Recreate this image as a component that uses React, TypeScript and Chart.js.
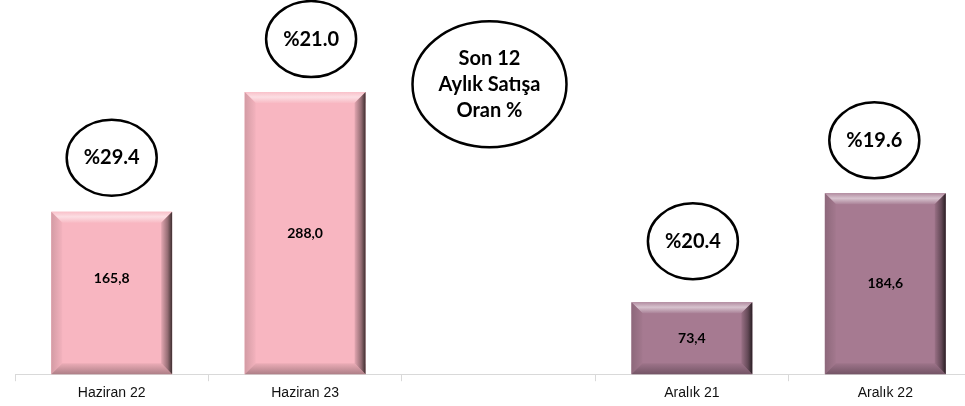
import React, { useEffect, useRef } from "react";
import { Chart, registerables } from "chart.js";

Chart.register(...registerables);

const categories = ["Haziran 22", "Haziran 23", "", "Aralık 21", "Aralık 22"];
const values: (number | null)[] = [165.8, 288.0, null, 73.4, 184.6];
const valueLabels = ["165,8", "288,0", "", "73,4", "184,6"];
const ratioLabels: (string | null)[] = ["%29.4", "%21.0", null, "%20.4", "%19.6"];
const noteLines = ["Son 12", "Aylık Satışa", "Oran %"];

const PINK = "#F8B6C1";
const PURPLE = "#A67A91";
const barColors = [PINK, PINK, PINK, PURPLE, PURPLE];

// style: offsets of annotation ellipses from bar top (px)
const ellipseOffsets: ([number, number] | null)[] = [[0, -54], [6, -53], null, [1, -61], [-11, -53]];
const labelOffsets = [-15, 0, 0, 0, 0];

function shade(hex: string, f: number): string {
  const n = parseInt(hex.slice(1), 16);
  let r = (n >> 16) & 255, g = (n >> 8) & 255, b = n & 255;
  if (f >= 0) {
    r = r + (255 - r) * f; g = g + (255 - g) * f; b = b + (255 - b) * f;
  } else {
    r = r * (1 + f); g = g * (1 + f); b = b * (1 + f);
  }
  return `rgb(${Math.round(r)},${Math.round(g)},${Math.round(b)})`;
}

const bevelPlugin = {
  id: "bevel",
  afterDatasetsDraw(chart: any) {
    const ctx = chart.ctx;
    const meta = chart.getDatasetMeta(0);
    meta.data.forEach((el: any, i: number) => {
      if (values[i] == null) return;
      const col = barColors[i];
      const w = el.width;
      const l = el.x - w / 2, r = el.x + w / 2, t = el.y, bot = el.base;
      const bh = 11, bv = 11;
      ctx.save();
      // top
      let g = ctx.createLinearGradient(0, t, 0, t + bv);
      g.addColorStop(0, shade(col, 0.15));
      g.addColorStop(0.45, shade(col, 0.55));
      g.addColorStop(1, shade(col, 0.05));
      ctx.fillStyle = g;
      ctx.beginPath();
      ctx.moveTo(l, t); ctx.lineTo(r, t); ctx.lineTo(r - bh, t + bv); ctx.lineTo(l + bh, t + bv); ctx.closePath();
      ctx.fill();
      // left
      g = ctx.createLinearGradient(l, 0, l + bh, 0);
      g.addColorStop(0, shade(col, -0.15));
      g.addColorStop(1, shade(col, -0.02));
      ctx.fillStyle = g;
      ctx.beginPath();
      ctx.moveTo(l, t); ctx.lineTo(l + bh, t + bv); ctx.lineTo(l + bh, bot - bv); ctx.lineTo(l, bot); ctx.closePath();
      ctx.fill();
      // bottom
      g = ctx.createLinearGradient(0, bot - bv, 0, bot);
      g.addColorStop(0, shade(col, -0.05));
      g.addColorStop(1, shade(col, -0.3));
      ctx.fillStyle = g;
      ctx.beginPath();
      ctx.moveTo(l, bot); ctx.lineTo(l + bh, bot - bv); ctx.lineTo(r - bh, bot - bv); ctx.lineTo(r, bot); ctx.closePath();
      ctx.fill();
      // right
      g = ctx.createLinearGradient(r - bh, 0, r, 0);
      g.addColorStop(0, shade(col, -0.08));
      g.addColorStop(0.6, shade(col, -0.4));
      g.addColorStop(1, shade(col, -0.75));
      ctx.fillStyle = g;
      ctx.beginPath();
      ctx.moveTo(r, t); ctx.lineTo(r, bot); ctx.lineTo(r - bh, bot - bv); ctx.lineTo(r - bh, t + bv); ctx.closePath();
      ctx.fill();

      // value label
      ctx.fillStyle = "#000";
      ctx.font = "bold 14px Lato, 'Liberation Sans', sans-serif";
      ctx.textAlign = "center";
      ctx.textBaseline = "middle";
      ctx.fillText(valueLabels[i], el.x, (t + bot) / 2 + labelOffsets[i]);
      ctx.restore();
    });
  },
  afterDraw(chart: any) {
    const ctx = chart.ctx;
    const meta = chart.getDatasetMeta(0);
    const xs = chart.scales.x;
    const ys = chart.scales.y;
    ctx.save();
    ctx.strokeStyle = "#000";
    ctx.lineWidth = 2.5;
    ctx.fillStyle = "#000";
    ctx.textAlign = "center";
    ctx.textBaseline = "middle";
    meta.data.forEach((el: any, i: number) => {
      const lab = ratioLabels[i];
      const off = ellipseOffsets[i];
      if (!lab || !off) return;
      const cx = el.x + off[0], cy = el.y + off[1];
      ctx.beginPath();
      ctx.ellipse(cx, cy, 45, 38, 0, 0, Math.PI * 2);
      ctx.fillStyle = "#fff";
      ctx.fill();
      ctx.stroke();
      ctx.fillStyle = "#000";
      ctx.font = "bold 20px Lato, 'Liberation Sans', sans-serif";
      ctx.fillText(lab, cx, cy);
    });
    // note circle
    const ncx = xs.getPixelForValue(2) - 9;
    const ncy = ys.getPixelForValue(296);
    ctx.beginPath();
    ctx.ellipse(ncx, ncy, 77, 63, 0, 0, Math.PI * 2);
    ctx.fillStyle = "#fff";
    ctx.fill();
    ctx.stroke();
    ctx.fillStyle = "#000";
    ctx.font = "bold 20px Lato, 'Liberation Sans', sans-serif";
    noteLines.forEach((s, k) => {
      ctx.fillText(s, ncx, ncy + (k - 1) * 26);
    });
    ctx.restore();
  },
};

export default function App() {
  const ref = useRef<HTMLCanvasElement>(null);
  useEffect(() => {
    if (!ref.current) return;
    const chart = new Chart(ref.current, {
      type: "bar",
      data: {
        labels: categories,
        datasets: [
          {
            data: values,
            backgroundColor: barColors,
            borderWidth: 0,
            categoryPercentage: 1,
            barPercentage: 0.625,
          },
        ],
      },
      options: {
        animation: false,
        responsive: true,
        maintainAspectRatio: false,
        layout: { padding: { left: 15, right: 8, top: 0, bottom: 0 } },
        plugins: { legend: { display: false }, tooltip: { enabled: false } },
        scales: {
          x: {
            grid: {
              display: true,
              drawOnChartArea: false,
              drawTicks: true,
              tickLength: 7,
              color: "#d9d9d9",
              offset: true,
            },
            border: { display: true, color: "#d9d9d9", width: 1 },
            ticks: {
              color: "#111",
              padding: 4,
              font: { family: "'Liberation Sans', Arial, sans-serif", size: 14 },
              maxRotation: 0,
              autoSkip: false,
            },
          },
          y: { display: false, min: 0, max: 382 },
        },
      },
      plugins: [bevelPlugin],
    });
    return () => chart.destroy();
  }, []);
  return (
    <div style={{ position: "fixed", left: 0, top: 0, width: 965, height: 406, overflow: "hidden", background: "#fff" }}>
      <div style={{ position: "absolute", left: 0, top: 0, width: 990, height: 406 }}>
        <canvas ref={ref} />
      </div>
    </div>
  );
}
